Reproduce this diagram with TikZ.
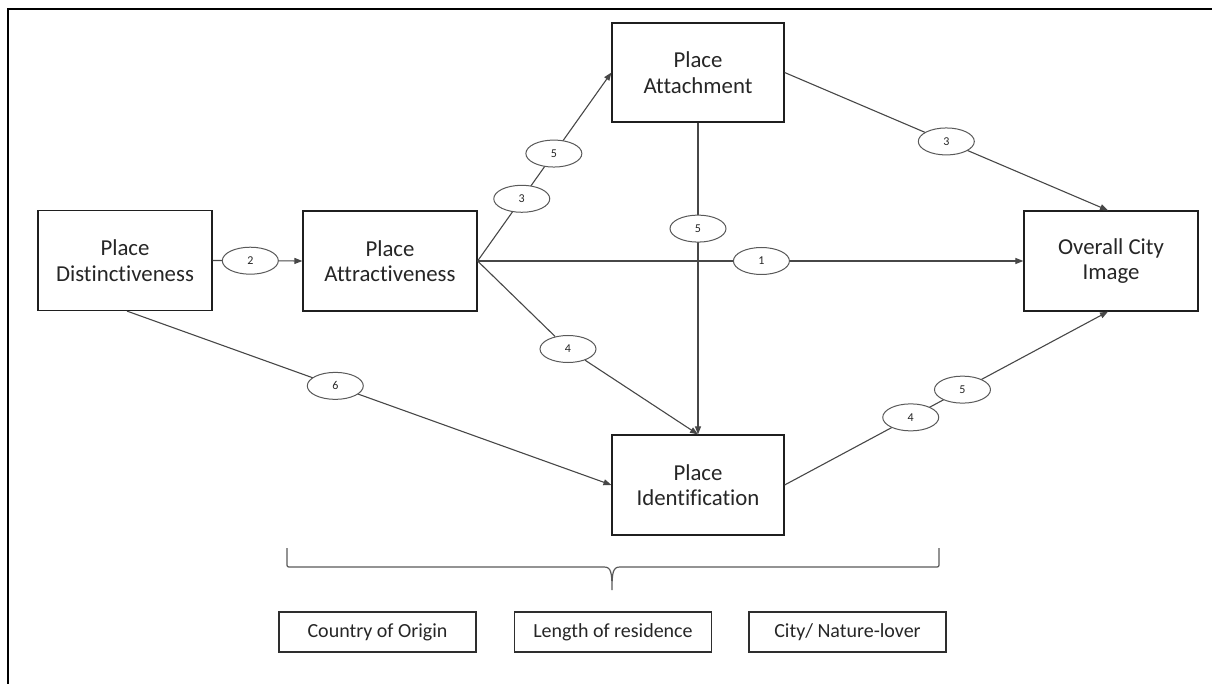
\documentclass[tikz,border=0pt]{standalone}
\usepackage{fontspec}
\setmainfont{Carlito}[Ligatures=NoCommon]
\usetikzlibrary{shapes.geometric,arrows.meta}
\begin{document}
\begin{tikzpicture}[x=1pt,y=-1pt,
 box/.style={draw=black!88,line width=1.2pt,fill=white,minimum width=174pt,minimum height=100pt,align=center,font=\fontsize{22.8}{25.5}\selectfont,inner sep=0pt,text=black!85},
 lab/.style={ellipse,draw=black!65,line width=1pt,fill=white,minimum width=56pt,minimum height=27pt,inner sep=0pt,font=\fontsize{12}{13}\selectfont,text=black!85},
 factor/.style={draw=black!82,line width=1.2pt,minimum width=197pt,minimum height=40pt,font=\fontsize{20}{22}\selectfont,inner sep=0pt,text=black!85},
 conn/.style={draw=black!72,line width=1.1pt},
 arr/.style={conn,-{Triangle[length=8pt,width=6pt]}},
 bracestyle/.style={draw=black!65,line width=1.2pt},
]
\useasboundingbox (0,0) rectangle (1212,684);
\draw[line width=2pt,line cap=rect] (8,684) -- (8,9) -- (1212,9);

\node[box] (dist) at (125,260.5) {Place\\Distinctiveness};
\node[box] (attr) at (390,261) {Place\\Attractiveness};
\node[box,minimum width=172pt,minimum height=99pt] (attach) at (698,72.5) {Place\\Attachment};
\node[box] (overall) at (1111,261) {Overall City\\Image};
\node[box,minimum width=172pt] (ident) at (698,485) {Place\\Identification};

\node[lab] (l4) at (568,349) {4};

\draw[arr] (dist.east) -- node[lab,pos=0.42] (l2) {2} (attr.west);
\draw[arr] (attr.east) -- node[lab,pos=0.33] (l3) {3} node[lab,pos=0.57] (l5) {5} (attach.west);
\draw[arr] (attach.south) -- node[lab,pos=0.34] (v5) {5} (ident.north);
\draw[arr] (attr.east) -- node[lab,pos=0.52] (l1) {1} (overall.west);
\draw[arr] (attr.east) -- (l4) -- (ident.north);
\draw[arr] ([xshift=2pt]dist.south) -- node[lab,pos=0.43] (l6) {6} (ident.west);
\draw[arr] (ident.east) -- node[lab,pos=0.39] (r4) {4} node[lab,pos=0.55] (r5) {5} ([xshift=-3pt]overall.south);
\draw[arr] (attach.east) -- node[lab,pos=0.50] (r3) {3} ([xshift=-3pt]overall.north);

\draw[bracestyle] (287,548) -- (287,563) .. controls (287,567) .. (291,567) -- (604,567)
  .. controls (611,567) and (612,572) .. (612,590)
  .. controls (612,572) and (613,567) .. (620,567) -- (935,567)
  .. controls (939,567) .. (939,563) -- (939,548);

\node[factor] (origin) at (377.5,632) {Country of Origin};
\node[factor] (length) at (613,632) {Length of residence};
\node[factor] (citylover) at (847.5,632) {City/ Nature-lover};
\end{tikzpicture}
\end{document}
